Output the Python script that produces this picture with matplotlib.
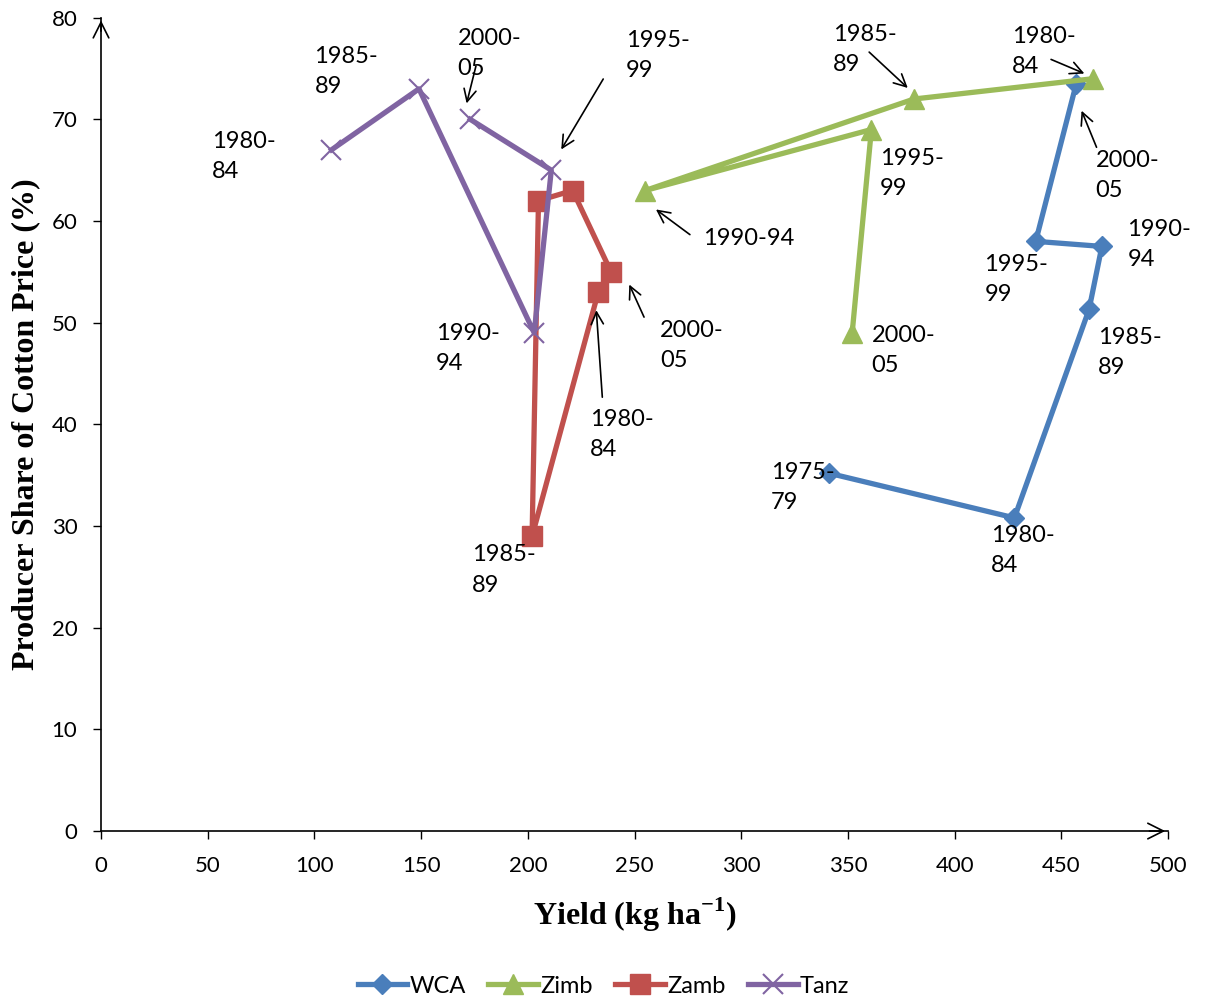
import matplotlib.pyplot as plt

# yield (kg/ha) vs producer share of cotton price (%)
wca_x = [341, 428, 463, 469, 438, 457]
wca_y = [35.2, 30.8, 51.3, 57.5, 58.0, 73.5]
wca_lab = ['1975-\n79', '1980-\n84', '1985-\n89', '1990-\n94', '1995-\n99', '2000-\n05']

zimb_x = [465, 381, 255, 361, 352]
zimb_y = [74.0, 72.0, 63.0, 69.0, 49.0]
zimb_lab = ['1980-\n84', '1985-\n89', '1990-94', '1995-\n99', '2000-\n05']

zamb_x = [233, 202, 205, 221, 239]
zamb_y = [53.0, 29.0, 62.0, 63.0, 55.0]
zamb_lab = ['1980-\n84', '1985-\n89', '1990-\n94', '1995-\n99', '2000-\n05']

tanz_x = [108, 149, 203, 211, 173]
tanz_y = [67.0, 73.0, 49.0, 65.0, 70.0]
tanz_lab = ['1980-\n84', '1985-\n89', '1990-\n94', '1995-\n99', '2000-\n05']

xticks = [0, 50, 100, 150, 200, 250, 300, 350, 400, 450, 500]
yticks = [0, 10, 20, 30, 40, 50, 60, 70, 80]

plt.rcParams['font.family'] = ['Lato', 'DejaVu Sans']

fig = plt.figure(figsize=(12.07, 9.98), dpi=100)
ax = fig.add_axes([0.0837, 0.1673, 0.884, 0.815])

ax.plot(wca_x, wca_y, color='#4A7EBB', lw=3.8, marker='D', ms=10, label='WCA')
ax.plot(zimb_x, zimb_y, color='#9BBB59', lw=3.8, marker='^', ms=14, label='Zimb')
ax.plot(zamb_x, zamb_y, color='#C0504D', lw=3.8, marker='s', ms=14, label='Zamb')
ax.plot(tanz_x, tanz_y, color='#8064A2', lw=3.8, marker='x', ms=14, mew=1.5, label='Tanz')

fs = 17
ls = 1.55
arrow = dict(arrowstyle='->', lw=1.2, color='black', mutation_scale=22)

def lab(txt, tx, ty):
    ax.text(tx, ty, txt, fontsize=fs, va='top', ha='left', linespacing=ls)

def point_to(px, py, sx, sy):
    ax.annotate('', xy=(px, py), xytext=(sx, sy), arrowprops=arrow)

# WCA labels
lab(wca_lab[0], 314, 36.3)
lab(wca_lab[1], 417, 30.1)
lab(wca_lab[2], 467, 49.6)
lab(wca_lab[3], 481, 60.2)
lab(wca_lab[4], 414, 56.8)
point_to(459, 71.1, 467, 67.0)
lab(wca_lab[5], 466, 67.0)

# Zimb labels
lab(zimb_lab[3], 365, 67.2)
lab(zimb_lab[4], 361, 49.8)
point_to(259, 61.3, 277, 58.5)
lab(zimb_lab[2], 282, 59.3)
point_to(379, 72.9, 359, 76.8)
lab(zimb_lab[1], 343, 79.4)
point_to(462, 74.4, 444, 76.0)
lab(zimb_lab[0], 427, 79.2)

# Zamb labels
lab(zamb_lab[1], 174, 28.2)
point_to(232, 51.5, 235, 42.4)
lab(zamb_lab[0], 229, 41.5)
point_to(247, 54.0, 255, 50.3)
lab(zamb_lab[4], 262, 50.3)

# Tanz labels
lab(tanz_lab[0], 52, 68.9)
lab(tanz_lab[1], 100, 77.2)
lab(tanz_lab[2], 157, 50.0)
point_to(171, 71.3, 176, 75.5)
lab(tanz_lab[4], 167, 79.0)
point_to(215, 66.8, 236, 74.2)
lab(tanz_lab[3], 246, 78.8)

ax.set_xlim(0, 500)
ax.set_ylim(0, 80)
ax.set_xticks(xticks)
ax.set_yticks(yticks)
ax.tick_params(direction='out', length=6, width=1, labelsize=16)
ax.tick_params(axis='x', pad=12)
ax.tick_params(axis='y', pad=11)
for s in ['top', 'right']:
    ax.spines[s].set_visible(False)
for s in ['left', 'bottom']:
    ax.spines[s].set_linewidth(1.2)

# arrow heads on the axes
ax.annotate('', xy=(0, 1.0), xytext=(0, 0.98), xycoords='axes fraction',
            arrowprops=dict(arrowstyle='->', lw=1.2, mutation_scale=28), annotation_clip=False)
ax.annotate('', xy=(1.0, 0), xytext=(0.98, 0), xycoords='axes fraction',
            arrowprops=dict(arrowstyle='->', lw=1.2, mutation_scale=28), annotation_clip=False)

ax.set_xlabel('Yield (kg ha$^{\\mathregular{-1}}$)', family='Liberation Serif',
              fontweight='bold', fontsize=23, labelpad=14)
ax.set_ylabel('Producer Share of Cotton Price (%)', family='Liberation Serif',
              fontweight='bold', fontsize=23, labelpad=8)

fig.legend(loc='lower center', bbox_to_anchor=(0.5, -0.02), ncol=4, frameon=False,
           fontsize=17, handlelength=2.1, handletextpad=0.1, columnspacing=0.95)

fig.savefig('out.png', dpi=100)
